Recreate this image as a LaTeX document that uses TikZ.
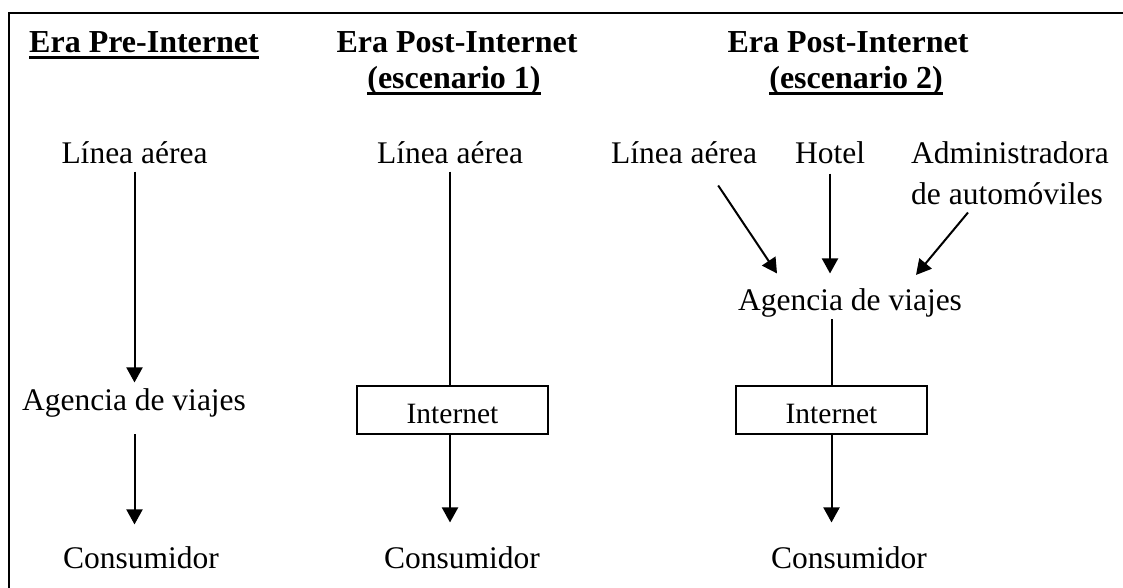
\documentclass[tikz,border=0pt]{standalone}
\usepackage{fontspec}
\setmainfont{Liberation Serif}
\usetikzlibrary{arrows.meta,calc}
% thick rule under a heading line
\newcommand\headrule[1]{\setbox0\hbox{#1}\leavevmode\rlap{\rule[-7pt]{\wd0}{2.6pt}}\box0}
\begin{document}
\begin{tikzpicture}[x=1pt,y=-1pt,
  every node/.style={inner sep=0pt,anchor=base},
  body/.style={font=\fontsize{31.5}{36}\selectfont},
  head/.style={font=\bfseries\fontsize{32}{36}\selectfont},
  netbox/.style={draw,line width=1.6pt,anchor=center,minimum width=191pt,
    minimum height=48pt,font=\fontsize{29.5}{32}\selectfont,
    text height=26pt,text depth=0pt},
  arr/.style={line width=2pt,-{Triangle[width=16pt,length=15pt]}},
  link/.style={line width=2pt}]
\useasboundingbox (0,0) rectangle (1123,587);
\clip (0,0) rectangle (1123,587);
% frame
\draw[line width=2pt] (1140,12.5) -- (8.5,12.5) -- (8.5,600);

% headings
\node[head] (h1)  at (144,52) {\headrule{Era Pre-Internet}};
\node[head] (h2a) at (457,52) {Era Post-Internet};
\node[head] (h2b) at (454,88) {\headrule{(escenario 1)}};
\node[head] (h3a) at (848,52) {Era Post-Internet};
\node[head] (h3b) at (856,88) {\headrule{(escenario 2)}};

% column 1
\node[body] (la1) at (134.5,163) {Línea aérea};
\node[body] (ag1) at (134,410) {Agencia de viajes};
\node[body] (co1) at (141,568) {Consumidor};
\draw[arr] ($(la1.south)+(0,8)$) -- ($(la1.south |- ag1.north)+(0,-5.5)$);
\draw[arr] ($(la1.south |- ag1.south)+(0,17)$) -- ($(la1.south |- co1.north)+(0,-21.5)$);

% column 2
\node[body] (la2) at (450,163) {Línea aérea};
\node[netbox] (in2) at (452.5,410) {Internet};
\node[body] (co2) at (462,568) {Consumidor};
\draw[link] ($(la2.south)+(0,8)$) -- (la2.south |- in2.north);
\draw[arr] (la2.south |- in2.south) -- ($(la2.south |- co2.north)+(0,-23.5)$);

% column 3
\node[body] (la3) at (684,163) {Línea aérea};
\node[body] (ho)  at (830,163) {Hotel};
\node[body,anchor=base west] (ad1) at (911,163) {Administradora};
\node[body,anchor=base west] (ad2) at (911,204) {de automóviles};
\node[body] (ag3) at (850,310) {Agencia de viajes};
\node[netbox] (in3) at (831.5,410) {Internet};
\node[body] (co3) at (849,568) {Consumidor};
\draw[arr] ($(la3.south east)+(-39,22)$) -- ($(ag3.north)+(-73,-14.5)$);
\draw[arr] ($(ho.south)+(0,10)$) -- ($(ho.south |- ag3.north)+(0,-14.5)$);
\draw[arr] ($(ad2.south west)+(57,8)$) -- ($(ag3.north)+(66,-13)$);
\draw[link] ($(in3.north |- ag3.south)+(0,2)$) -- (in3.north);
\draw[arr] (in3.south) -- ($(in3.south |- co3.north)+(0,-23.5)$);
\end{tikzpicture}
\end{document}
